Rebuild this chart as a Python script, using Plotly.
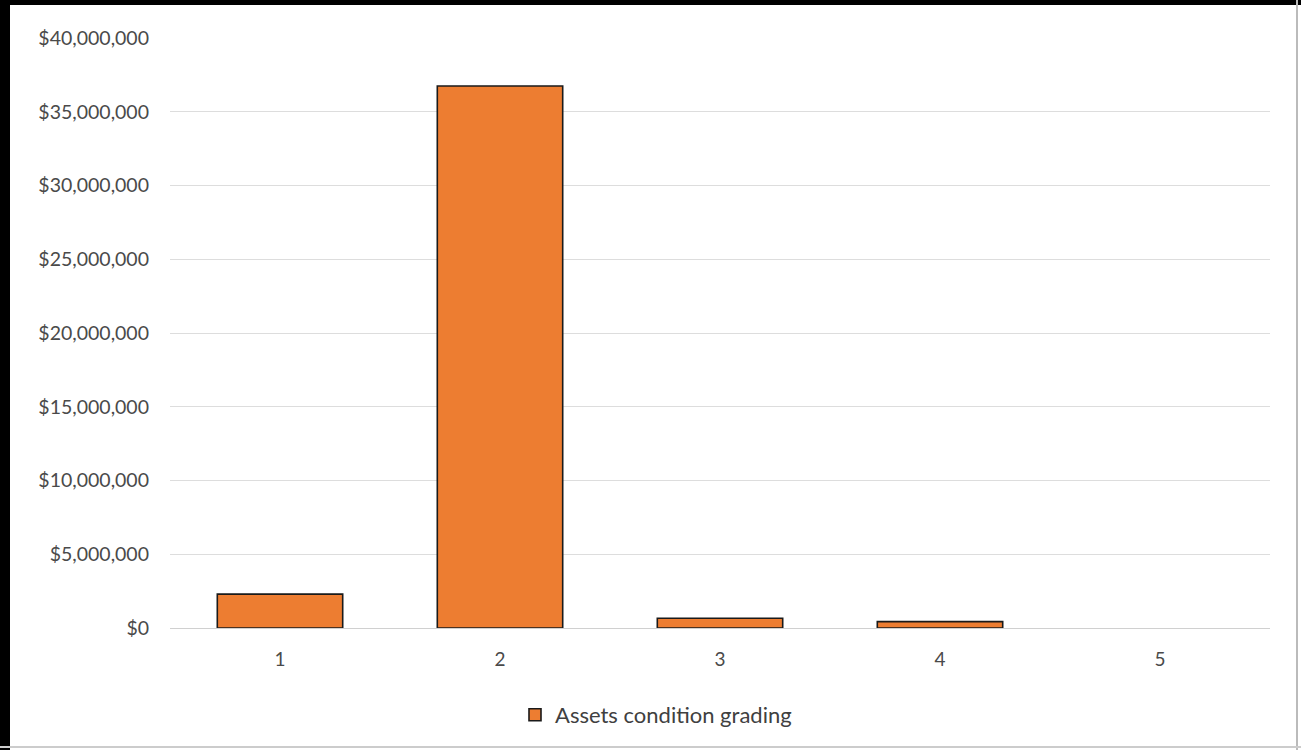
import plotly.graph_objects as go

categories = ["1", "2", "3", "4", "5"]
values = [2300000, 36750000, 660000, 430000, 0]
y_tickvals = [0, 5000000, 10000000, 15000000, 20000000, 25000000, 30000000, 35000000, 40000000]
y_ticktext = ["$0", "$5,000,000", "$10,000,000", "$15,000,000", "$20,000,000",
              "$25,000,000", "$30,000,000", "$35,000,000", "$40,000,000"]
series_name = "Assets condition grading"

W, H = 1301, 750
L, R, T, B = 170, 31, 38, 122
pw, ph = W - L - R, H - T - B

def px(x):
    return (x - L) / pw

def py(y):
    return (H - B - y) / ph

outline_w = [1.6 if v > 0 else 0 for v in values]

fig = go.Figure()
fig.add_trace(go.Bar(
    x=categories, y=values, name=series_name,
    marker=dict(color="#ED7D31", line=dict(color="#1a1a1a", width=outline_w)),
    width=0.57, showlegend=True,
))

font_family = "Lato, 'Open Sans', sans-serif"
fig.update_layout(
    width=W, height=H,
    margin=dict(l=L, r=R, t=T, b=B, autoexpand=False),
    paper_bgcolor="white", plot_bgcolor="white",
    font=dict(family=font_family, size=19, color="#4a4a4a"),
    showlegend=True,
    legend=dict(orientation="h", x=px(656), y=py(715), xanchor="center", yanchor="middle",
                font=dict(size=22, color="#404040"), itemwidth=30),
    xaxis=dict(type="category", showgrid=False, showline=True, linecolor="#D0D0D0",
               linewidth=1, ticks="", ticklabelstandoff=14, tickfont=dict(size=19)),
    yaxis=dict(range=[0, 40000000], tickvals=y_tickvals, ticktext=y_ticktext,
               showgrid=True, gridcolor="#DDDDDD", gridwidth=1, zeroline=False,
               ticks="", ticklabelstandoff=20, tickfont=dict(size=19.5)),
    bargap=0.43,
    shapes=[
        dict(type="rect", xref="paper", yref="paper", x0=px(0), x1=px(10), y0=py(0), y1=py(H),
             fillcolor="black", line=dict(width=0), layer="above"),
        dict(type="rect", xref="paper", yref="paper", x0=px(0), x1=px(W), y0=py(0), y1=py(5),
             fillcolor="black", line=dict(width=0), layer="above"),
        dict(type="line", xref="paper", yref="paper", x0=px(1297), x1=px(1297), y0=py(0), y1=py(H),
             line=dict(color="#BBBBBB", width=2), layer="above"),
        dict(type="line", xref="paper", yref="paper", x0=px(0), x1=px(W), y0=py(747), y1=py(747),
             line=dict(color="#CCCCCC", width=2), layer="above"),
    ],
)

fig.write_html("out.html")
